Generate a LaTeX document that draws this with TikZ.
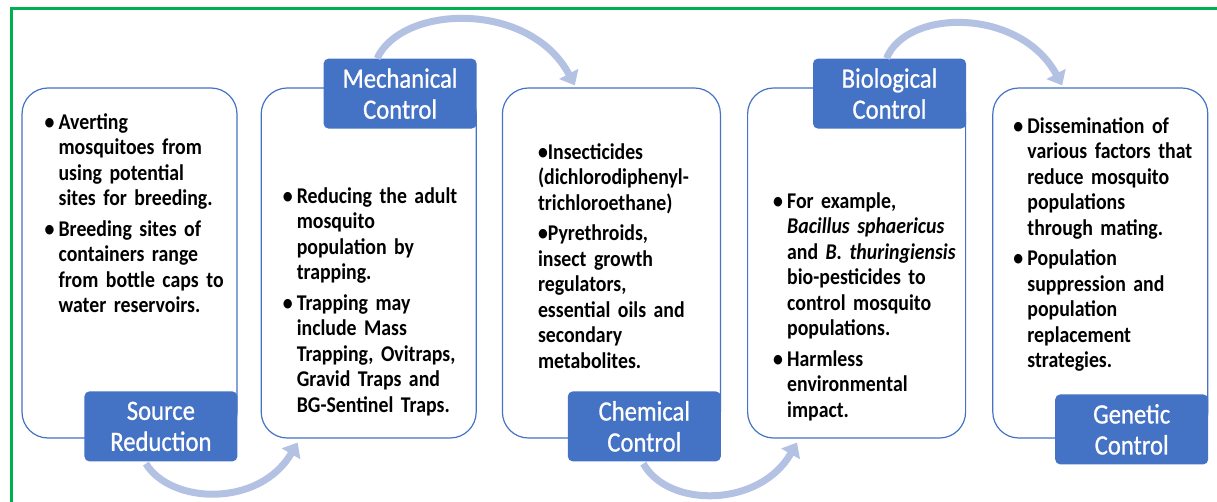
\documentclass[tikz,border=0pt]{standalone}
\usepackage{fontspec}
\setmainfont{Carlito}[FakeStretch=0.88]
\newfontfamily\headfont{Carlito}[FakeStretch=0.88,FakeBold=0.8]
\usepackage{xcolor}
\usetikzlibrary{arrows.meta}
\usetikzlibrary{positioning}

\definecolor{headblue}{HTML}{4472C4}
\definecolor{linkblue}{HTML}{B3C1E3}
\definecolor{framegreen}{HTML}{00B050}

\newcommand{\bitem}[1]{\hangindent=14pt\hangafter=1\noindent\makebox[14pt][l]{\textbullet}#1\par}

\begin{document}
\begin{tikzpicture}[x=1pt,y=-1pt,->,>={Triangle[width=21pt,length=13pt]}]
	\tikzstyle{box}=[draw=headblue,line width=1.2pt,rounded corners=26pt,minimum width=215pt,minimum height=350pt]
	\tikzstyle{head}=[fill=headblue,rounded corners=5pt,text=white,minimum width=153pt,minimum height=70pt,inner sep=0pt,align=center,font=\headfont\fontsize{28}{31}\selectfont]
	\tikzstyle{note}=[anchor=base west,text width=190pt,inner sep=0pt,font=\bfseries\fontsize{22.5}{25.5}\selectfont\setlength{\parskip}{5pt}]
	\tikzstyle{link}=[draw=linkblue,line width=7pt]
	\useasboundingbox (0,0) rectangle (1217,502);
	\draw[-,framegreen,line width=3pt] (11.5,8.5) rectangle (1240,530);

	\node[box]                                  (srcbox) at (129.5,263) {};
	\node[box,right=23pt of srcbox]             (mechbox) {};
	\node[box,minimum width=218pt,right=25pt of mechbox] (chembox) {};
	\node[box,minimum width=218pt,right=26pt of chembox] (biobox) {};
	\node[box,right=26pt of biobox]             (genbox) {};

	\node[head,anchor=south east] (src)  at ([yshift=-23pt]srcbox.south east)  {Source\\Reduction};
	\node[head,anchor=north east] (mech) at ([yshift=29pt]mechbox.north east)  {Mechanical\\Control};
	\node[head,anchor=south east] (chem) at ([yshift=-23pt]chembox.south east) {Chemical\\Control};
	\node[head,anchor=north east] (bio)  at ([yshift=29pt]biobox.north east)   {Biological\\Control};
	\node[head,anchor=south east] (gen)  at ([yshift=-26pt]genbox.south east)  {Genetic\\Control};

	\node[note] (srctxt) at ([xshift=23pt,yshift=-42pt]srcbox.north west) {%
		\bitem{Averting\newline mosquitoes from\newline using potential\newline sites for breeding.}%
		\bitem{Breeding sites of\newline containers range\newline from bottle caps to\newline water reservoirs.}};
	\node[note] (mechtxt) at ([xshift=22pt,yshift=-116pt]mechbox.north west) {%
		\bitem{Reducing the adult\newline mosquito\newline population by\newline trapping.}%
		\bitem{Trapping may\newline include Mass\newline Trapping, Ovitraps,\newline Gravid Traps and\newline BG-Sentinel Traps.}};
	\node[note] (chemtxt) at ([xshift=36pt,yshift=-72pt]chembox.north west) {%
		\noindent\textbullet Insecticides\newline (dichlorodiphenyl-\newline trichloroethane)\par
		\noindent\textbullet Pyrethroids,\newline insect growth\newline regulators,\newline essential oils and\newline secondary\newline metabolites.};
	\node[note] (biotxt) at ([xshift=26pt,yshift=-121pt]biobox.north west) {%
		\bitem{For example,\newline\textit{Bacillus sphaericus}\newline and \textit{B. thuringiensis}\newline bio-pesticides to\newline control mosquito\newline populations.}%
		\bitem{Harmless\newline environmental\newline impact.}};
	\node[note] (gentxt) at ([xshift=21pt,yshift=-46pt]genbox.north west) {%
		\bitem{Dissemination of\newline various factors that\newline reduce mosquito\newline populations\newline through mating.}%
		\bitem{Population\newline suppression and\newline population\newline replacement\newline strategies.}};

	\draw[link] ([xshift=-15pt,yshift=-2pt]src.south) .. controls +(25,41) and +(-38,65) .. ([xshift=37pt,yshift=-4pt]mechbox.south west);
	\draw[link] ([xshift=-23pt]mech.north) .. controls +(25,-54) and +(-45,-85) .. ([xshift=73pt,yshift=2pt]chembox.north west);
	\draw[link] ([xshift=-1pt,yshift=-2pt]chem.south) .. controls +(25,45) and +(-37,65) .. ([xshift=50pt,yshift=-4pt]biobox.south west);
	\draw[link] ([xshift=-3pt]bio.north) .. controls +(20,-50) and +(-42,-78) .. ([xshift=70pt,yshift=2pt]genbox.north west);
\end{tikzpicture}
\end{document}
